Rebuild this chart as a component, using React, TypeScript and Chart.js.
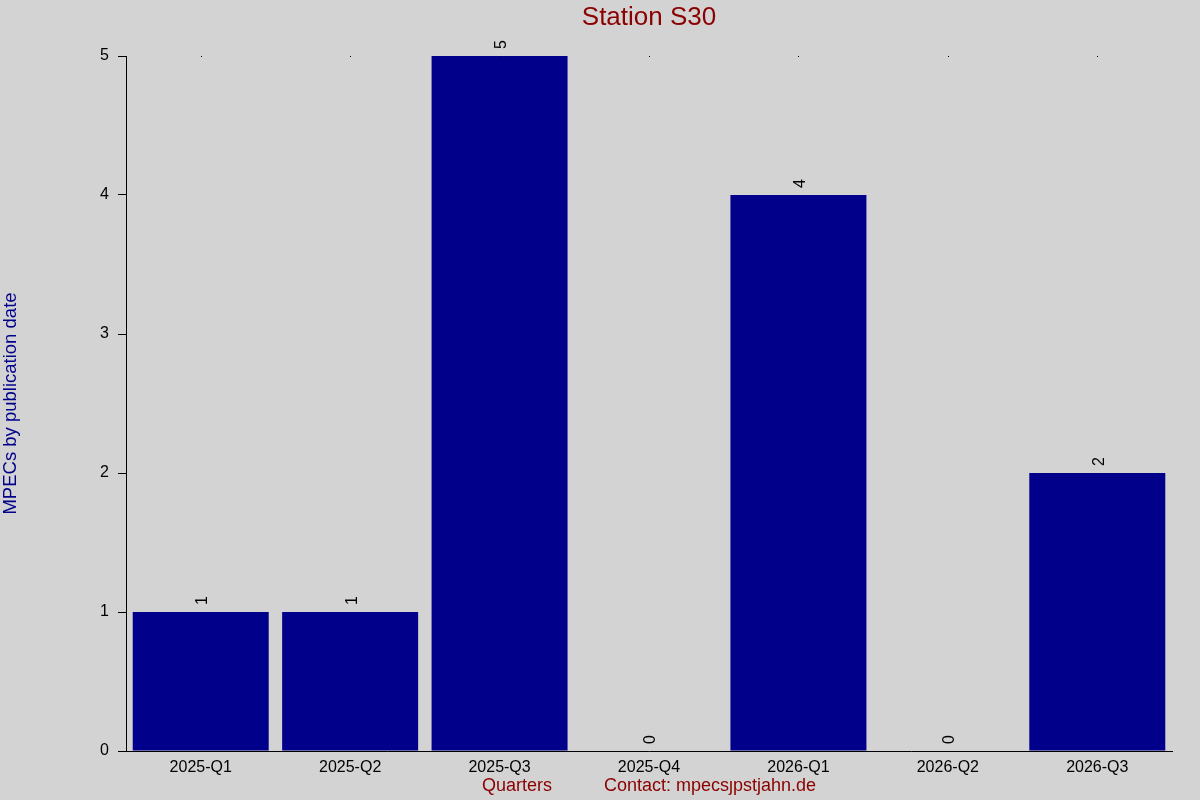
import { useEffect, useRef } from "react";
import { Chart, registerables } from "chart.js";

Chart.register(...registerables);

const quarters = ["2025-Q1", "2025-Q2", "2025-Q3", "2025-Q4", "2026-Q1", "2026-Q2", "2026-Q3"];
const mpecCounts = [1, 1, 5, 0, 4, 0, 2];
const yTicks = [0, 1, 2, 3, 4, 5];

const FONT = "'Liberation Sans', Arial, sans-serif";

// draws titles, rotated value labels and the small dots on top
const extrasPlugin = {
  id: "extras",
  afterDraw(chart: any) {
    const ctx = chart.ctx;
    const area = chart.chartArea;
    const xs = chart.scales.x;
    const meta = chart.getDatasetMeta(0);
    ctx.save();

    // title
    ctx.fillStyle = "#8B0000";
    ctx.font = `26px ${FONT}`;
    ctx.textAlign = "center";
    ctx.textBaseline = "middle";
    ctx.fillText("Station S30", (area.left + area.right) / 2, 18);

    // y title
    ctx.save();
    ctx.translate(11, (area.top + area.bottom) / 2);
    ctx.rotate(-Math.PI / 2);
    ctx.fillStyle = "#00008B";
    ctx.font = `18.5px ${FONT}`;
    ctx.fillText("MPECs by publication date", 0, 0);
    ctx.restore();

    // x titles
    ctx.fillStyle = "#8B0000";
    ctx.font = `18px ${FONT}`;
    ctx.fillText("Quarters", 517, 786);
    ctx.fillText("Contact: mpecs\u0237pstjahn.de", 710, 786);

    // value labels
    ctx.fillStyle = "#000";
    ctx.font = `16px ${FONT}`;
    meta.data.forEach((bar: any, i: number) => {
      ctx.save();
      ctx.translate(bar.x + 2, bar.y - 7);
      ctx.rotate(-Math.PI / 2);
      ctx.textAlign = "left";
      ctx.textBaseline = "middle";
      ctx.fillText(String(mpecCounts[i]), 0, 0);
      ctx.restore();
    });

    // dots along the top
    quarters.forEach((_q, i) => {
      ctx.fillRect(Math.round(xs.getPixelForValue(i)), area.top, 1, 1);
    });
    ctx.restore();
  },
};

const bgPlugin = {
  id: "bg",
  beforeDraw(chart: any) {
    const ctx = chart.ctx;
    ctx.save();
    ctx.fillStyle = "#D3D3D3";
    ctx.fillRect(0, 0, chart.width, chart.height);
    ctx.restore();
  },
};

const App = () => {
  const canvasRef = useRef<HTMLCanvasElement | null>(null);

  useEffect(() => {
    document.body.style.margin = "0";
    if (!canvasRef.current) return;

    const chart = new Chart(canvasRef.current, {
      type: "bar",
      data: {
        labels: quarters,
        datasets: [
          {
            label: "MPECs",
            data: mpecCounts,
            backgroundColor: "#00008B",
            barPercentage: 0.91,
            categoryPercentage: 1,
          },
        ],
      },
      options: {
        responsive: false,
        animation: false,
        events: [],
        layout: { padding: { top: 56, right: 28, left: 0, bottom: 0 } },
        plugins: {
          legend: { display: false },
          tooltip: { enabled: false },
        },
        scales: {
          x: {
            grid: { display: false, tickLength: 0 },
            border: { display: true, color: "#000", width: 1 },
            ticks: { color: "#000", font: { size: 16, family: FONT }, padding: 7, maxRotation: 0 },
            afterFit: (scale: any) => {
              scale.height = 49;
            },
          },
          y: {
            min: 0,
            max: 5,
            afterBuildTicks: (scale: any) => {
              scale.ticks = yTicks.map((v) => ({ value: v }));
            },
            grid: { drawOnChartArea: false, tickLength: 8, color: "#000" },
            border: { display: true, color: "#000", width: 1 },
            ticks: { color: "#000", font: { size: 16, family: FONT }, padding: 9 },
            afterFit: (scale: any) => {
              scale.width = 126;
            },
          },
        },
      },
      plugins: [bgPlugin, extrasPlugin],
    });

    return () => {
      chart.destroy();
    };
  }, []);

  return (
    <div style={{ width: 1200, height: 800 }}>
      <canvas ref={canvasRef} width={1200} height={800}></canvas>
    </div>
  );
};

export default App;
